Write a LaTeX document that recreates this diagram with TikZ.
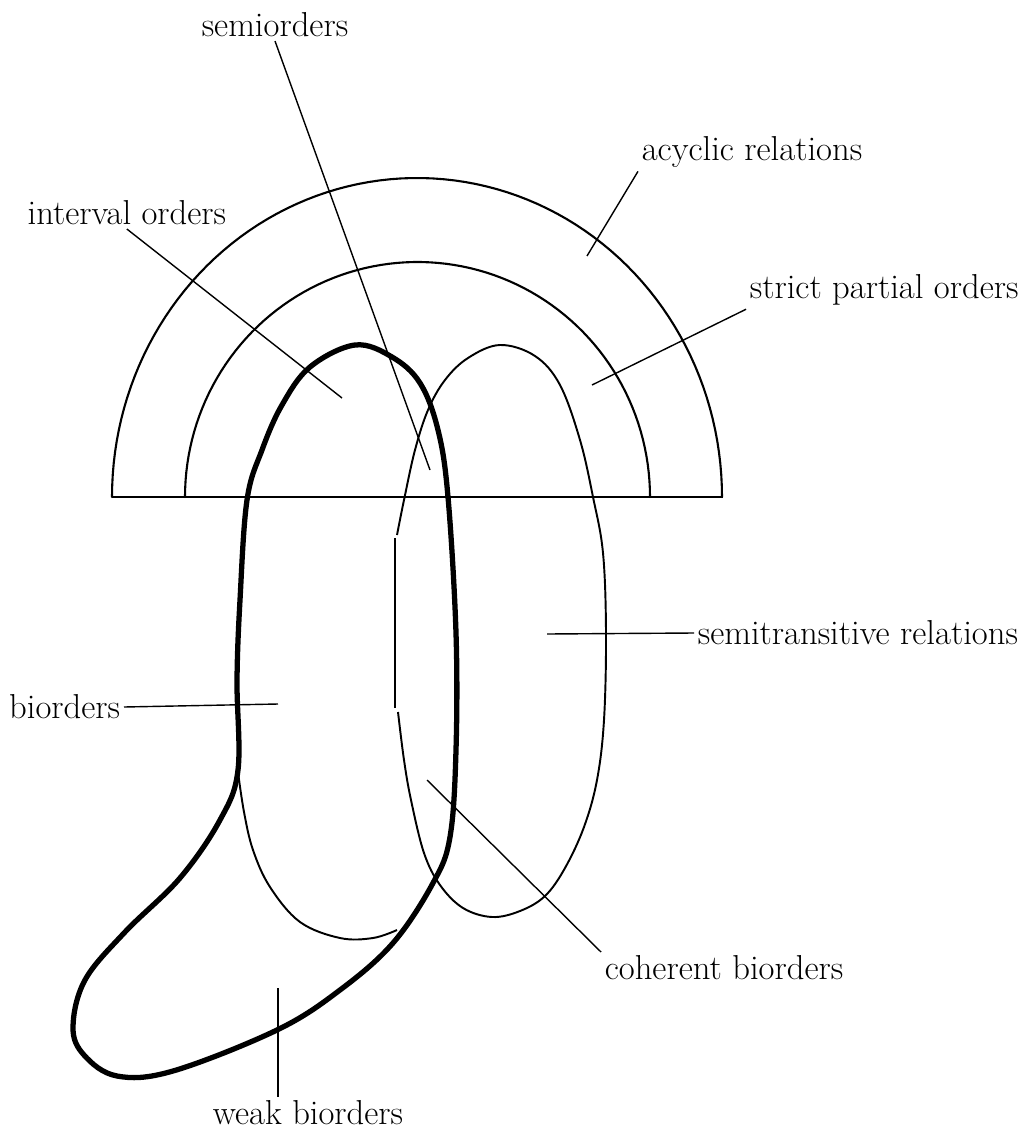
\documentclass[tikz,border=0pt]{standalone}
\usepackage{tikz}
\usetikzlibrary{positioning,calc}
\tikzset{
  % --- labels
  lbl/.style    = {font=\fontsize{19.7}{23}\selectfont, inner sep=2pt},
  % --- curves
  ring/.style   = {line width=1.2pt, line cap=round},
  rel/.style    = {line width=1.1pt, line join=round},
  wbo/.style    = {line width=3pt, line join=round},
  ldr/.style    = {line width=0.8pt},
}
\begin{document}
\begin{tikzpicture}[x=0.02cm, y=-0.02cm]
  \useasboundingbox (0,0) rectangle (1026,1132);

  % --- the two half rings and the cut
  \draw[ring] plot[domain=180:0, samples=90] ({417+305*cos(\x)}, {497-319*sin(\x)});
  \draw[ring] plot[domain=180:0, samples=90] ({417.5+232.5*cos(\x)}, {497-235*sin(\x)});
  \draw[line width=1.5pt] (112,497) -- (723,497);

  % --- weak biorders (thick)
  \draw[wbo] plot[smooth cycle, tension=0.6] coordinates {
    (355,345) (392,357) (420,383) (438,430) (448,497) (456,633) (456,750)
    (450,837) (433,883) (393,943) (340,990) (277,1030) (173,1071) (117,1076)
    (84,1055) (73,1027) (85,980) (125,932) (180,878) (220,820) (238,770)
    (237,680) (240,600) (247,500) (262,450) (282,405) (310,367)};
  % bottom of biorders
  \draw[rel] plot[smooth, tension=0.6] coordinates {
    (238,772) (244,812) (253,850) (270,887) (300,922) (340,938) (373,938) (397,930)};

  % --- semitransitive relations
  \draw[rel] plot[smooth, tension=0.6] coordinates {
    (398,712) (404,760) (411,800) (424,853) (440,885) (463,908) (492,917)
    (520,911) (545,896) (565,868) (584,827) (597,780) (604,720) (606,633)
    (603,553) (593,497) (580,440) (560,385) (535,356) (500,345) (468,358)
    (445,380) (428,410) (415,450) (404,500) (397,535)};
  \draw[line width=0.7pt] (395,538) -- (395,708);

  % --- labels
  \node[lbl] (semi) at (275,25) {semiorders};
  \node[lbl] (acyc) at (752,152) {acyclic relations};
  \node[lbl, anchor=east] (intv) at (230,213) {interval orders};
  \node[lbl, anchor=west] (spo) at (746,290) {strict partial orders};
  \node[lbl, anchor=west] (semit) at (694,633) {semitransitive relations};
  \node[lbl, anchor=east] (bior) at (124,707) {biorders};
  \node[lbl, anchor=west] (coh) at (601,968) {coherent biorders};
  \node[lbl] (weak) at (308,1113) {weak biorders};

  % --- leader ends
  \coordinate (semi-e)  at (430,470);
  \coordinate (acyc-e)  at (587,256);
  \coordinate (intv-e)  at (342,398);
  \coordinate (spo-e)   at (592,385);
  \coordinate (semit-e) at (547,634);
  \coordinate (bior-e)  at (278,704);
  \coordinate (coh-e)   at (427,780);
  \coordinate (weak-e)  at (278,988);

  \draw[ldr] (semi.south) -- (semi-e);
  \draw[ldr] (acyc.south west) -- (acyc-e);
  \draw[ldr] (intv.south) -- (intv-e);
  \draw[ldr] (spo.south west) -- (spo-e);
  \draw[ldr] (semit.west) -- (semit-e);
  \draw[ldr] (bior.east) -- (bior-e);
  \draw[ldr] (coh.north west) -- (coh-e);
  \draw[ldr] (weak-e) -- (weak-e |- weak.north);
\end{tikzpicture}
\end{document}
